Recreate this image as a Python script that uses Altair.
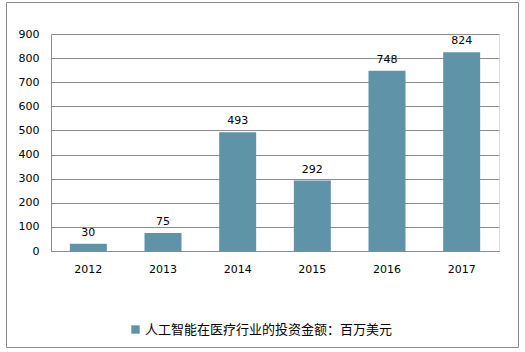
import altair as alt
import pandas as pd

years = ["2012", "2013", "2014", "2015", "2016", "2017"]
values = [30, 75, 493, 292, 748, 824]
series_name = "人工智能在医疗行业的投资金额：百万美元"

df = pd.DataFrame({"year": years, "value": values, "series": [series_name] * len(years)})

FONT = "DejaVu Sans"
GRID = "#8c8c8c"
BAR = "#5f93a8"

xenc = alt.X("year:N", sort=years, title=None,
             scale=alt.Scale(paddingInner=0.5, paddingOuter=0.25),
             axis=alt.Axis(labelAngle=0, labelFont=FONT, labelFontSize=11, labelColor="#000",
                           ticks=False, labelPadding=12, domainColor=GRID, grid=False))
yenc = alt.Y("value:Q", title=None,
             scale=alt.Scale(domain=[0, 900], nice=False),
             axis=alt.Axis(values=list(range(0, 1000, 100)), labelFont=FONT, labelFontSize=11,
                           labelColor="#000", ticks=False, labelPadding=12, domainColor=GRID,
                           gridColor=GRID, grid=True, labelOverlap=False))

base = alt.Chart(df).encode(x=xenc, y=yenc)

bars = base.mark_bar(size=37).encode(
    color=alt.Color("series:N", scale=alt.Scale(range=[BAR]),
                    legend=alt.Legend(title=None, orient="none", legendX=78, legendY=289,
                                      symbolType="square", symbolSize=70, symbolStrokeWidth=0,
                                      labelFont="Noto Sans CJK SC", labelFontSize=13,
                                      labelColor="#000", labelOffset=3, padding=0, labelLimit=0)),
)

labels = base.mark_text(baseline="bottom", dy=-6, font=FONT, fontSize=11, color="#000").encode(
    text="value:Q",
)

border = alt.Chart(pd.DataFrame({"k": [0]})).mark_rect(fill=None, stroke=GRID, strokeWidth=1).encode(
    x=alt.value(-44.5), x2=alt.value(467.5), y=alt.value(-31.5), y2=alt.value(313.5)
)

chart = alt.layer(bars, labels, border).properties(
    width=448, height=217,
    autosize=alt.AutoSizeParams(type="none"),
    padding={"left": 51, "top": 34, "right": 26, "bottom": 101},
).configure_view(stroke=None).configure(background="white")

chart.save("out.html", embed_options={"renderer": "svg", "actions": False})
